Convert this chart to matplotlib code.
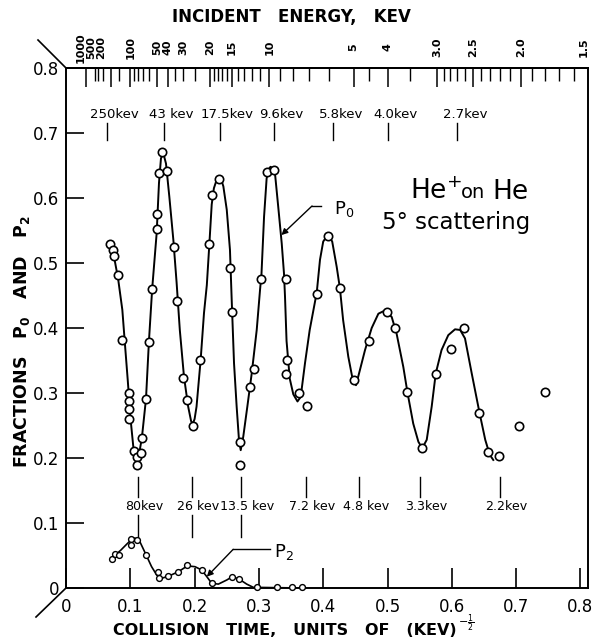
import numpy as np
import matplotlib
matplotlib.use("Agg")
import matplotlib.pyplot as plt
from matplotlib.lines import Line2D

# P0 measured points (collision time, fraction)
p0_t = [0.0684, 0.0726, 0.0746, 0.081, 0.0876, 0.0985, 0.0985, 0.0985, 0.0985, 0.1058,
        0.111, 0.111, 0.117, 0.118, 0.1244, 0.129, 0.134, 0.142, 0.142, 0.145,
        0.150, 0.157, 0.168, 0.172, 0.1825, 0.1877, 0.197, 0.2084, 0.223, 0.2276,
        0.238, 0.2546, 0.2577, 0.270, 0.270, 0.2857, 0.2924, 0.304, 0.312, 0.324,
        0.3417, 0.343, 0.342, 0.3624, 0.3743, 0.390, 0.4075, 0.426, 0.448, 0.4712,
        0.4987, 0.512, 0.531, 0.554, 0.575, 0.598, 0.619, 0.643, 0.657, 0.6734,
        0.705, 0.745]
p0_val = [0.530, 0.520, 0.511, 0.481, 0.381, 0.2995, 0.288, 0.275, 0.2595, 0.211,
          0.201, 0.189, 0.207, 0.231, 0.291, 0.379, 0.460, 0.552, 0.575, 0.638,
          0.671, 0.641, 0.525, 0.441, 0.323, 0.289, 0.250, 0.351, 0.529, 0.605,
          0.630, 0.493, 0.424, 0.225, 0.190, 0.310, 0.337, 0.475, 0.640, 0.643,
          0.475, 0.351, 0.330, 0.2995, 0.2805, 0.452, 0.5415, 0.461, 0.320, 0.380,
          0.425, 0.4005, 0.301, 0.216, 0.330, 0.368, 0.4005, 0.270, 0.209, 0.203,
          0.250, 0.301]

# hand drawn P0 curve, traced
p0_curve_t = [0.075, 0.081, 0.0876, 0.092, 0.096, 0.1006, 0.1047, 0.108, 0.111, 0.114,
              0.118, 0.1244, 0.129, 0.134, 0.141, 0.1446, 0.1477, 0.1513, 0.1555, 0.1607,
              0.167, 0.172, 0.177, 0.1835, 0.190, 0.1945, 0.197, 0.200, 0.203, 0.2094,
              0.2146, 0.219, 0.223, 0.2266, 0.230, 0.234, 0.238, 0.2415, 0.2447, 0.250,
              0.255, 0.2577, 0.2613, 0.2654, 0.269, 0.2717, 0.2757, 0.282, 0.2888, 0.2966,
              0.3017, 0.304, 0.308, 0.312, 0.315, 0.318, 0.3215, 0.325, 0.330, 0.3355,
              0.339, 0.3406, 0.343, 0.348, 0.3535, 0.360, 0.365, 0.3717, 0.379, 0.390,
              0.395, 0.400, 0.4075, 0.414, 0.421, 0.426, 0.431, 0.439, 0.446, 0.451,
              0.457, 0.465, 0.4754, 0.4858, 0.496, 0.5065, 0.514, 0.5246, 0.531, 0.540,
              0.548, 0.554, 0.561, 0.5687, 0.575, 0.584, 0.5945, 0.605, 0.613, 0.6205,
              0.631, 0.643, 0.652, 0.659, 0.6645]
p0_curve = [0.508, 0.476, 0.428, 0.371, 0.320, 0.258, 0.217, 0.204, 0.201, 0.208,
            0.231, 0.291, 0.380, 0.460, 0.546, 0.623, 0.661, 0.669, 0.653, 0.602,
            0.535, 0.470, 0.397, 0.325, 0.279, 0.257, 0.252, 0.260, 0.279, 0.351,
            0.423, 0.466, 0.530, 0.590, 0.615, 0.627, 0.632, 0.628, 0.618, 0.582,
            0.520, 0.443, 0.346, 0.279, 0.228, 0.212, 0.233, 0.279, 0.330, 0.397,
            0.458, 0.483, 0.571, 0.630, 0.644, 0.648, 0.646, 0.638, 0.587, 0.530,
            0.484, 0.448, 0.380, 0.322, 0.298, 0.287, 0.294, 0.346, 0.397, 0.455,
            0.505, 0.533, 0.544, 0.533, 0.494, 0.461, 0.412, 0.356, 0.320, 0.312,
            0.335, 0.366, 0.400, 0.422, 0.427, 0.417, 0.392, 0.340, 0.301, 0.253,
            0.225, 0.215, 0.228, 0.279, 0.330, 0.366, 0.389, 0.398, 0.397, 0.384,
            0.330, 0.270, 0.228, 0.205, 0.197]

# P2 measured points
p2_t = [0.071, 0.076, 0.0824, 0.1006, 0.1006, 0.110, 0.1244, 0.1426, 0.1446, 0.159,
        0.1747, 0.1887, 0.211, 0.2266, 0.2587, 0.269, 0.2975, 0.3277, 0.352, 0.3665]
p2_val = [0.045, 0.052, 0.051, 0.0754, 0.0667, 0.074, 0.0513, 0.0246, 0.0154, 0.0185,
          0.0251, 0.0349, 0.0277, 0.0072, 0.0174, 0.0138, 0.001, 0.001, 0.001, 0.001]

p2_curve_t = [0.071, 0.078, 0.085, 0.095, 0.1047, 0.110, 0.115, 0.1244, 0.133, 0.141,
              0.1488, 0.159, 0.1747, 0.1887, 0.2006, 0.211, 0.219, 0.2266, 0.237, 0.250,
              0.2587, 0.269, 0.281, 0.2913, 0.3665]
p2_curve = [0.045, 0.052, 0.058, 0.068, 0.077, 0.076, 0.071, 0.0513, 0.033, 0.020,
            0.015, 0.018, 0.025, 0.034, 0.0328, 0.0277, 0.0174, 0.0072, 0.006, 0.0123,
            0.0174, 0.0138, 0.006, 0.001, 0.0]

# energy markers inside the plot
upper_kev = [250, 43, 17.5, 9.6, 5.8, 4.0, 2.7]
upper_labels = ["250kev", "43 kev", "17.5kev", "9.6kev", "5.8kev", "4.0kev", "2.7kev"]
lower_kev = [80, 26, 13.5, 7.2, 4.8, 3.3, 2.2]
lower_labels = ["80kev", "26 kev", "13.5 kev", "7.2 kev", "4.8 kev", "3.3kev", "2.2kev"]
lower_mark_below = [True, True, True, False, False, False, False]

# top energy scale
top_label_kev = [1000, 500, 200, 100, 50, 40, 30, 20, 15, 10, 5, 4, 3.0, 2.5, 2.0, 1.5]
top_label_text = ["1000", "500", "200", "100", "50", "40", "30", "20", "15", "10",
                  "5", "4", "3.0", "2.5", "2.0", "1.5"]
top_minor_kev = [500, 400, 300, 150, 90, 80, 70, 60, 35, 30, 25, 19, 18, 17, 16, 14, 13,
                 12, 11, 9, 8, 7, 6, 4.5, 3.5, 2.9, 2.8, 2.7, 2.6, 2.4, 2.3, 2.2, 2.1,
                 1.9, 1.8, 1.7, 1.6]
top_long_kev = [1000, 200, 100, 50, 40, 20, 15, 10, 5, 4, 3.0, 2.5, 2.0, 1.5]
label_nudge = {1000: -0.0085, 500: -0.006, 200: -0.016, 1.5: -0.0115}


def t_of(e):
    return 1.0 / np.sqrt(np.asarray(e, dtype=float))


W, H = 593, 640
fig = plt.figure(figsize=(W / 100, H / 100), dpi=100)
ax = fig.add_axes([66 / W, 1 - 588 / H, 522 / W, 520 / H])
ax.set_xlim(0, 0.8118)
ax.set_ylim(0, 0.8)

for s in ax.spines.values():
    s.set_linewidth(1.4)

ax.plot(p0_curve_t, p0_curve, color="black", lw=1.4, zorder=2)
ax.plot(p0_t, p0_val, "o", ms=6, mfc="white", mec="black", mew=1.2, zorder=3)
ax.plot(p2_curve_t, p2_curve, color="black", lw=1.2, zorder=2)
ax.plot(p2_t, p2_val, "o", ms=4.2, mfc="white", mec="black", mew=1.0, zorder=3,
        clip_on=False)

xt = [0, 0.1, 0.2, 0.3, 0.4, 0.5, 0.6, 0.7, 0.8]
ax.set_xticks(xt)
ax.set_xticklabels(["0", "0.1", "0.2", "0.3", "0.4", "0.5", "0.6", "0.7", "0.8"])
ax.set_yticks(xt)
ax.set_yticklabels(["0", "0.1", "0.2", "0.3", "0.4", "0.5", "0.6", "0.7", "0.8"])
ax.tick_params(axis="x", direction="in", length=14.5, width=1.2, pad=7,
               labelsize=12, top=False)
ax.tick_params(axis="y", direction="in", length=13, width=1.2, pad=5, labelsize=12)

# top energy axis
sec = ax.secondary_xaxis("top")
sec.set_xticks(t_of(top_long_kev))
sec.set_xticks(t_of(top_minor_kev), minor=True)
sec.set_xticklabels([])
sec.tick_params(which="major", direction="in", length=13.7, width=1.1)
sec.tick_params(which="minor", direction="in", length=9.4, width=1.0)
sec.spines["top"].set_linewidth(1.4)
for e, lab in zip(top_label_kev, top_label_text):
    ax.text(float(t_of(e)) + label_nudge.get(e, 0), 1.040, lab, rotation=90,
            ha="center", va="center", fontsize=8, fontweight="bold",
            transform=ax.get_xaxis_transform(), clip_on=False)

# energy marks inside
for e, lab in zip(upper_kev, upper_labels):
    x = float(t_of(e))
    ax.plot([x, x], [0.689, 0.7154], color="black", lw=1.0)
    ax.annotate(lab, (x, 0.7277), xytext=(5.5, 0), textcoords="offset points",
                ha="center", va="center", fontsize=9.5)
for e, lab, below in zip(lower_kev, lower_labels, lower_mark_below):
    x = float(t_of(e))
    ax.plot([x, x], [0.14, 0.1708], color="black", lw=1.0)
    if below:
        ax.plot([x, x], [0.0785, 0.1123], color="black", lw=1.0)
    ax.annotate(lab, (x, 0.125), xytext=(4.5, 0), textcoords="offset points",
                ha="center", va="center", fontsize=9.1)

# curve labels
ax.plot([0.3965, 0.3826], [0.5877, 0.5877], color="black", lw=1.0)
ax.annotate("", xy=(0.335, 0.543), xytext=(0.3826, 0.5877),
            arrowprops=dict(arrowstyle="-|>", color="black", lw=1.0,
                            mutation_scale=9, shrinkA=0, shrinkB=0))
ax.text(0.417, 0.583, r"$\mathregular{P_0}$", fontsize=13, ha="left", va="center")
ax.plot([0.317, 0.260], [0.0595, 0.0595], color="black", lw=1.0)
ax.annotate("", xy=(0.219, 0.0174), xytext=(0.260, 0.0595),
            arrowprops=dict(arrowstyle="-|>", color="black", lw=1.0,
                            mutation_scale=9, shrinkA=0, shrinkB=0))
ax.text(0.324, 0.055, r"$\mathregular{P_2}$", fontsize=13, ha="left", va="center")

# title text in the plot
ax.text(0.535, 0.598, r"He$^{+}$", fontsize=19, ha="left", va="baseline")
ax.text(0.614, 0.600, "on", fontsize=14, ha="left", va="baseline")
ax.text(0.6636, 0.598, "He", fontsize=19, ha="left", va="baseline")
ax.text(0.491, 0.553, "5° scattering", fontsize=16.5, ha="left", va="baseline")

# axis labels
xlab = fig.text(113 / W, 1 - 635 / H, "COLLISION   TIME,   UNITS   OF   (KEV)",
                fontsize=11.5, fontweight="bold", ha="left", va="baseline")
fig.text(22 / W, 1 - 342 / H,
         r"FRACTIONS   $\mathbf{P_0}$   AND   $\mathbf{P_2}$",
         fontsize=12.5, fontweight="bold", rotation=90, ha="center", va="center")
fig.text(291 / W, 1 - 17 / H, "INCIDENT   ENERGY,   KEV", fontsize=12,
         fontweight="bold", ha="center", va="center")
fig.canvas.draw()
ax.annotate(r"$-\frac{1}{2}$", xy=(1, 0.95), xycoords=xlab, xytext=(1, 0),
            textcoords="offset points", ha="left", va="center", fontsize=8)

# corner strokes
fig.add_artist(Line2D([38 / W, 66 / W], [1 - 40 / H, 1 - 68 / H], color="black",
                      lw=1.2, transform=fig.transFigure))
fig.add_artist(Line2D([36 / W, 66 / W], [1 - 617 / H, 1 - 588 / H], color="black",
                      lw=1.2, transform=fig.transFigure))

fig.savefig("out.png", dpi=100)
